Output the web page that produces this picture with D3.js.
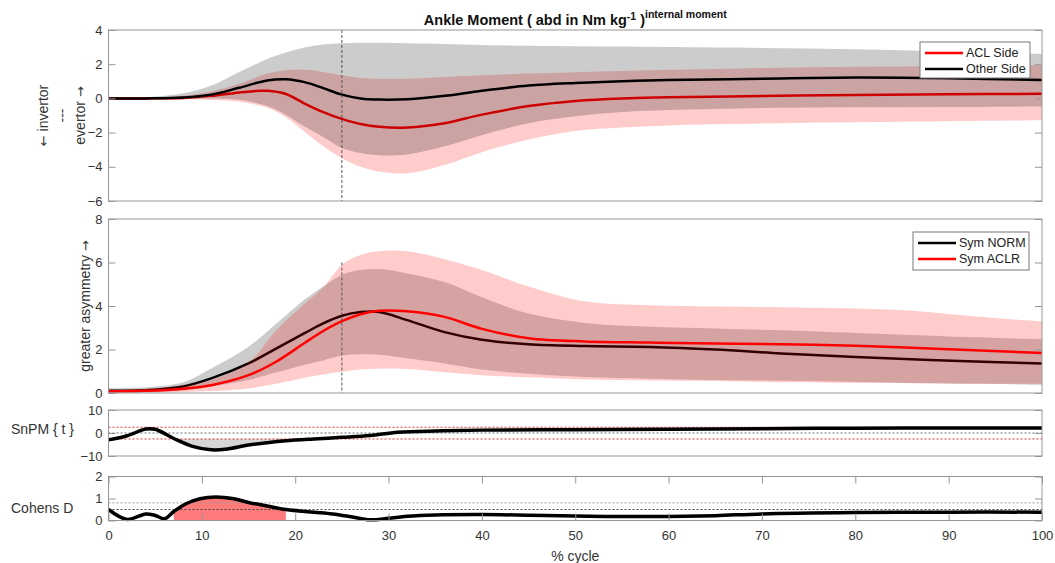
<!DOCTYPE html>
<html>
<head>
<meta charset="utf-8">
<script src="https://cdn.jsdelivr.net/npm/d3@7"></script>
<style>
  body { margin: 0; background: #fff; }
  svg text { font-family: "Liberation Sans", Arial, Helvetica, sans-serif; fill: #333; }
</style>
</head>
<body>
<div id="chart"></div>
<script>
// panel 1 : ankle moment, mean +- sd for each side
const cycle1 = [0, 4, 8, 11, 14, 17, 19, 21, 23, 25, 27, 29, 32, 36, 40, 45, 50, 55, 60, 70, 80, 90, 100];
const otherMean  = [0, 0, 0.05, 0.22, 0.62, 1.05, 1.12, 0.95, 0.6, 0.22, 0.0, -0.07, -0.05, 0.15, 0.45, 0.75, 0.9, 1.0, 1.07, 1.15, 1.22, 1.18, 1.07];
const otherUpper = [0.05, 0.07, 0.3, 0.75, 1.55, 2.3, 2.68, 2.98, 3.15, 3.22, 3.25, 3.25, 3.22, 3.18, 3.12, 3.08, 3.05, 3.03, 3.0, 2.95, 2.87, 2.75, 2.6];
const otherLower = [-0.03, -0.03, -0.03, 0.0, -0.08, -0.45, -0.95, -1.65, -2.25, -2.9, -3.2, -3.33, -3.28, -2.8, -2.15, -1.45, -1.05, -0.8, -0.68, -0.56, -0.52, -0.5, -0.48];
const aclMean  = [0, 0, 0.03, 0.15, 0.35, 0.45, 0.26, -0.3, -0.8, -1.2, -1.5, -1.66, -1.7, -1.45, -0.95, -0.45, -0.15, 0.0, 0.06, 0.14, 0.2, 0.24, 0.27];
const aclUpper = [0.03, 0.05, 0.15, 0.4, 0.85, 1.45, 1.65, 1.68, 1.55, 1.35, 1.2, 1.15, 1.15, 1.25, 1.35, 1.45, 1.53, 1.6, 1.67, 1.78, 1.85, 1.9, 1.94];
const aclLower = [-0.03, -0.03, -0.05, -0.1, -0.2, -0.55, -1.1, -1.95, -2.8, -3.5, -4.0, -4.28, -4.38, -3.9, -3.15, -2.4, -1.9, -1.7, -1.58, -1.47, -1.4, -1.33, -1.28];

// panel 2 : symmetry index
const cycle2 = [0, 4, 8, 11, 15, 18, 21, 23, 25, 27, 29, 32, 36, 40, 45, 51, 58, 65, 72, 80, 86, 92, 100];
const normMean  = [0.1, 0.13, 0.3, 0.67, 1.36, 2.05, 2.75, 3.2, 3.55, 3.72, 3.72, 3.35, 2.8, 2.45, 2.24, 2.16, 2.12, 2.0, 1.82, 1.66, 1.55, 1.46, 1.36];
const normUpper = [0.22, 0.27, 0.5, 1.13, 2.13, 3.2, 4.3, 4.9, 5.43, 5.65, 5.7, 5.5, 5.1, 4.4, 3.65, 3.22, 3.05, 2.97, 2.88, 2.76, 2.67, 2.57, 2.47];
const normLower = [0.0, 0.02, 0.12, 0.3, 0.6, 0.95, 1.3, 1.5, 1.72, 1.78, 1.76, 1.6, 1.36, 1.08, 0.88, 0.73, 0.66, 0.6, 0.56, 0.51, 0.46, 0.42, 0.38];
const aclrMean  = [0.08, 0.1, 0.2, 0.36, 0.82, 1.45, 2.3, 2.85, 3.3, 3.62, 3.78, 3.76, 3.5, 2.95, 2.52, 2.37, 2.32, 2.28, 2.24, 2.17, 2.08, 1.98, 1.84];
const aclrUpper = [0.15, 0.2, 0.35, 0.6, 1.4, 2.9, 4.1, 4.85, 5.9, 6.35, 6.52, 6.52, 6.15, 5.65, 4.9, 4.22, 4.03, 3.98, 3.94, 3.88, 3.78, 3.55, 3.29];
const aclrLower = [0.0, 0.02, 0.05, 0.09, 0.21, 0.42, 0.7, 0.85, 0.98, 1.08, 1.12, 1.1, 0.95, 0.82, 0.72, 0.62, 0.58, 0.55, 0.5, 0.47, 0.45, 0.43, 0.42];

// panel 3 : SnPM t statistic
const cycleT = [0, 2, 4, 5, 7, 9, 11, 12.5, 15, 17, 19, 22, 25, 28, 31, 35, 40, 50, 60, 70, 80, 90, 100];
const snpmT  = [-3.0, -1.2, 1.75, 1.6, -2.4, -5.8, -7.3, -7.1, -5.2, -4.2, -3.4, -2.6, -1.9, -1.1, 0.3, 0.9, 1.25, 1.4, 1.6, 1.9, 2.1, 2.2, 2.2];
const snpmThresh = [2.5, -2.6];
const snpmCluster = [5, 25];

// panel 4 : cohens d
const cycleD = [0, 2, 4, 5, 6, 7, 8.3, 9.8, 11.5, 13.4, 15, 17, 19, 22, 24, 26, 28, 30, 32, 35, 40, 45, 50, 55, 60, 65, 70, 80, 90, 100];
const cohensD = [0.5, 0.05, 0.3, 0.23, 0.08, 0.41, 0.76, 0.99, 1.07, 0.99, 0.82, 0.66, 0.5, 0.38, 0.3, 0.17, 0.03, 0.1, 0.19, 0.25, 0.27, 0.24, 0.2, 0.18, 0.18, 0.22, 0.3, 0.36, 0.38, 0.38];
const cohenRefLines = [0.8, 0.5];
const cohenFill = [7, 19];

// tick labels
const xTicks = [0, 10, 20, 30, 40, 50, 60, 70, 80, 90, 100];
const yTicks1 = [-6, -4, -2, 0, 2, 4];
const yTicks2 = [0, 2, 4, 6, 8];
const yTicks3 = [-10, 0, 10];
const yTicks4 = [0, 1, 2];
const eventCycle = 25;

const svgWidth = 1055, svgHeight = 563;
const boxColor = "#969696";
const tickLen = 7;

const svg = d3.select("#chart").append("svg")
    .attr("width", svgWidth)
    .attr("height", svgHeight);

const x = d3.scaleLinear().domain([0, 100]).range([108.5, 1042]);

const y1 = d3.scaleLinear().domain([-6, 4]).range([201, 30]);
const y2 = d3.scaleLinear().domain([0, 8]).range([393, 219]);
const y3 = d3.scaleLinear().domain([-10, 10]).range([456, 410]);
const y4 = d3.scaleLinear().domain([0, 2]).range([520.5, 476.5]);

// catmull rom goes through the points but stays smooth at the peaks (monotone flattened them)
const curve = d3.curveCatmullRom.alpha(0.5);

function band(xs, lo, hi, y){
    const pts = xs.map((c, i) => [c, lo[i], hi[i]]);
    return d3.area().curve(curve)
        .x(d => x(d[0])).y0(d => y(d[1])).y1(d => y(d[2]))(pts);
}
function line(xs, vals, y){
    const pts = xs.map((c, i) => [c, vals[i]]);
    return d3.line().curve(curve).x(d => x(d[0])).y(d => y(d[1]))(pts);
}

// box + inward ticks on left and right, labels on the left
function drawFrame(y, ticks){
    const g = svg.append("g");
    g.append("g")
        .attr("transform", `translate(${x(0)},0)`)
        .call(d3.axisLeft(y).tickValues(ticks).tickSize(-tickLen).tickSizeOuter(0).tickPadding(6).tickFormat(d3.format("")))
        .call(a => a.select(".domain").remove());
    g.append("g")
        .attr("transform", `translate(${x(100)},0)`)
        .call(d3.axisRight(y).tickValues(ticks).tickSize(-tickLen).tickSizeOuter(0).tickFormat(""))
        .call(a => a.select(".domain").remove());
    g.selectAll(".tick line").attr("stroke", boxColor);
    g.selectAll(".tick text").attr("font-size", 13).attr("fill", "#333");
    g.append("rect")
        .attr("x", x(0)).attr("y", y.range()[1])
        .attr("width", x(100) - x(0))
        .attr("height", y.range()[0] - y.range()[1])
        .attr("fill", "none")
        .attr("stroke", boxColor);
    return g;
}

// ---------- panel 1 ----------
svg.append("path").attr("d", band(cycle1, aclLower, aclUpper, y1)).attr("fill", "rgba(255,0,0,0.2)");
svg.append("path").attr("d", line(cycle1, aclMean, y1)).attr("fill", "none").attr("stroke", "#ff0000").attr("stroke-width", 2.5);
svg.append("path").attr("d", band(cycle1, otherLower, otherUpper, y1)).attr("fill", "rgba(0,0,0,0.2)");
svg.append("path").attr("d", line(cycle1, otherMean, y1)).attr("fill", "none").attr("stroke", "#000").attr("stroke-width", 2.5);
svg.append("line")
    .attr("x1", x(eventCycle)).attr("x2", x(eventCycle))
    .attr("y1", y1(4)).attr("y2", y1(-6))
    .attr("stroke", "#555").attr("stroke-dasharray", "3,2");
drawFrame(y1, yTicks1);

// ---------- panel 2 ----------
svg.append("path").attr("d", band(cycle2, normLower, normUpper, y2)).attr("fill", "rgba(0,0,0,0.2)");
svg.append("path").attr("d", line(cycle2, normMean, y2)).attr("fill", "none").attr("stroke", "#000").attr("stroke-width", 2.5);
svg.append("path").attr("d", band(cycle2, aclrLower, aclrUpper, y2)).attr("fill", "rgba(255,0,0,0.2)");
svg.append("path").attr("d", line(cycle2, aclrMean, y2)).attr("fill", "none").attr("stroke", "#ff0000").attr("stroke-width", 2.5);
svg.append("line")
    .attr("x1", x(eventCycle)).attr("x2", x(eventCycle))
    .attr("y1", y2(6)).attr("y2", y2(0))
    .attr("stroke", "#555").attr("stroke-dasharray", "3,2");
drawFrame(y2, yTicks2);

// ---------- panel 3 ----------
// cluster fill: area between threshold and curve, clipped so only the part under the threshold shows
svg.append("clipPath").attr("id", "clipT")
    .append("rect")
    .attr("x", x(snpmCluster[0])).attr("y", y3(snpmThresh[1]))
    .attr("width", x(snpmCluster[1]) - x(snpmCluster[0]))
    .attr("height", y3(-10) - y3(snpmThresh[1]));
svg.append("path")
    .attr("d", d3.area().curve(curve)
        .x((d, i) => x(cycleT[i]))
        .y0(y3(snpmThresh[1]))
        .y1(d => y3(d))(snpmT))
    .attr("fill", "#d6d6d6")
    .attr("clip-path", "url(#clipT)");
svg.append("line")
    .attr("x1", x(0)).attr("x2", x(100)).attr("y1", y3(0)).attr("y2", y3(0))
    .attr("stroke", "#444").attr("stroke-width", 0.8).attr("stroke-dasharray", "2,2");
svg.selectAll(".thresh").data(snpmThresh).enter().append("line")
    .attr("x1", x(0)).attr("x2", x(100))
    .attr("y1", d => y3(d)).attr("y2", d => y3(d))
    .attr("stroke", "#e83030").attr("stroke-width", 1).attr("stroke-dasharray", "2,2");
svg.append("path").attr("d", line(cycleT, snpmT, y3)).attr("fill", "none").attr("stroke", "#000").attr("stroke-width", 3.5);
drawFrame(y3, yTicks3);

// ---------- panel 4 ----------
svg.append("clipPath").attr("id", "clipD")
    .append("rect")
    .attr("x", x(cohenFill[0])).attr("y", y4(2))
    .attr("width", x(cohenFill[1]) - x(cohenFill[0]))
    .attr("height", y4(0) - y4(2));
svg.append("path")
    .attr("d", d3.area().curve(curve)
        .x((d, i) => x(cycleD[i]))
        .y0(y4(0))
        .y1(d => y4(d))(cohensD))
    .attr("fill", "#ff7b7b")
    .attr("clip-path", "url(#clipD)");
svg.selectAll(".cohenRef").data(cohenRefLines).enter().append("line")
    .attr("x1", x(0)).attr("x2", x(100))
    .attr("y1", d => y4(d)).attr("y2", d => y4(d))
    .attr("stroke", (d, i) => i == 0 ? "#999" : "#444")
    .attr("stroke-width", 1).attr("stroke-dasharray", "2,2");
svg.append("path").attr("d", line(cycleD, cohensD, y4)).attr("fill", "none").attr("stroke", "#000").attr("stroke-width", 3.5);
drawFrame(y4, yTicks4);

// x axis only on the bottom panel, ticks inside top and bottom
const xBottom = svg.append("g")
    .attr("transform", `translate(0,${y4(0)})`)
    .call(d3.axisBottom(x).tickValues(xTicks).tickSize(-tickLen).tickSizeOuter(0).tickPadding(10));
const xTop = svg.append("g")
    .attr("transform", `translate(0,${y4(2)})`)
    .call(d3.axisTop(x).tickValues(xTicks).tickSize(-tickLen).tickSizeOuter(0).tickFormat(""));
[xBottom, xTop].forEach(g => {
    g.select(".domain").remove();
    g.selectAll(".tick line").attr("stroke", boxColor);
    g.selectAll(".tick text").attr("font-size", 13).attr("fill", "#333");
});

svg.append("text")
    .text("% cycle")
    .attr("x", x(50)).attr("y", 556)
    .attr("text-anchor", "middle").attr("dominant-baseline", "central")
    .attr("font-size", 14);

// y labels, arrows in dejavu since liberation draws them tiny
function arrowLabel(parts, cx, cy){
    const t = svg.append("text")
        .attr("transform", `translate(${cx},${cy}) rotate(-90)`)
        .attr("text-anchor", "middle").attr("dominant-baseline", "central")
        .attr("font-size", 14);
    parts.forEach(p => {
        const s = t.append("tspan").text(p);
        if (p == "←" || p == "→") s.style("font-family", "DejaVu Sans").attr("font-size", 13);
    });
}
const p1Mid = (y1(4) + y1(-6)) / 2;
arrowLabel(["←", " invertor"], 43, p1Mid);
arrowLabel(["---"], 62, p1Mid);
arrowLabel(["evertor ", "→"], 80, p1Mid);
arrowLabel(["greater asymmetry ", "→"], 85, (y2(0) + y2(8)) / 2);

svg.append("text").text("SnPM { t }")
    .attr("x", 11).attr("y", 429).attr("dominant-baseline", "central").attr("font-size", 14);
svg.append("text").text("Cohens D")
    .attr("x", 11).attr("y", 508).attr("dominant-baseline", "central").attr("font-size", 14);

// title with the matlab style superscripts
const title = svg.append("text")
    .attr("x", x(50)).attr("y", 25)
    .attr("text-anchor", "middle")
    .attr("font-size", 14.5).attr("font-weight", "bold")
    .style("fill", "#111");
title.append("tspan").text("Ankle Moment ( abd in Nm kg");
title.append("tspan").text("-1").attr("font-size", 10.5).attr("dy", -5);
title.append("tspan").text(" )").attr("dy", 5);
title.append("tspan").text("internal moment").attr("font-size", 10.5).attr("dy", -7);

// legends
function legend(x0, y0, w, h, items){
    const g = svg.append("g");
    g.append("rect").attr("x", x0).attr("y", y0).attr("width", w).attr("height", h)
        .attr("fill", "#fff").attr("stroke", "#777");
    items.forEach((it, i) => {
        const yy = y0 + 11 + i * 16;
        g.append("line").attr("x1", x0 + 5).attr("x2", x0 + 43).attr("y1", yy).attr("y2", yy)
            .attr("stroke", it[1]).attr("stroke-width", 2.5);
        g.append("text").text(it[0]).attr("x", x0 + 46).attr("y", yy)
            .attr("dominant-baseline", "central").attr("font-size", 12.5).style("fill", "#222");
    });
}
legend(920, 42, 110, 36, [["ACL Side", "#ff0000"], ["Other Side", "#000"]]);
legend(913, 232, 116, 38, [["Sym NORM", "#000"], ["Sym ACLR", "#ff0000"]]);
</script>
</body>
</html>
